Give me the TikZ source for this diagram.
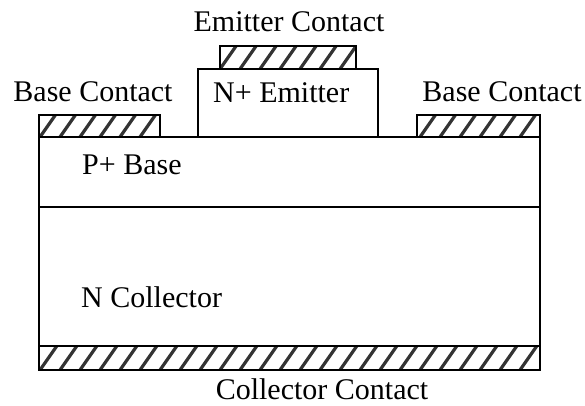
\documentclass[tikz,border=0pt]{standalone}
\usepackage{fontspec}
\setmainfont{Liberation Serif}
\begin{document}
\begin{tikzpicture}[x=1pt,y=-1pt,
  outline/.style={draw=black,line width=1.5pt},
  hatchline/.style={draw=black!80,line width=3.2pt},
  lbl/.style={inner sep=0pt,font=\fontsize{30}{32}\selectfont}]
\useasboundingbox (0,0) rectangle (585,406);
\newcommand\hatchbox[4]{%
  \begin{scope}
    \clip (#1,#2) rectangle (#3,#4);
    \foreach \s in {-40,-20,...,600} {
      \draw[hatchline] (\s,#4) -- ++(0.7*#4-0.7*#2,#2-#4);
    }
  \end{scope}
  \draw[outline] (#1,#2) rectangle (#3,#4);}
% regions
\draw[outline] (39,137) rectangle (540,346);
\draw[outline] (39,207) -- (540,207);
\draw[outline] (198,69) rectangle (378,137);
% contacts
\hatchbox{39}{115}{160}{137}
\hatchbox{417}{115}{540}{137}
\hatchbox{220}{46}{356}{69}
\hatchbox{39}{346}{540}{370}
% labels
\node[lbl,anchor=base] (ec) at (289,32) {Emitter Contact};
\node[lbl,anchor=base] (bcl) at (93,102) {Base Contact};
\node[lbl,anchor=base] (bcr) at (502,102) {Base Contact};
\node[lbl,anchor=base west] (ne) at (213,103) {N+ Emitter};
\node[lbl,anchor=base west] (pb) at (82,174) {P+ Base};
\node[lbl,anchor=base west] (nc) at (81,307) {N Collector};
\node[lbl,anchor=base] (cc) at (322,399) {Collector Contact};
\end{tikzpicture}
\end{document}
